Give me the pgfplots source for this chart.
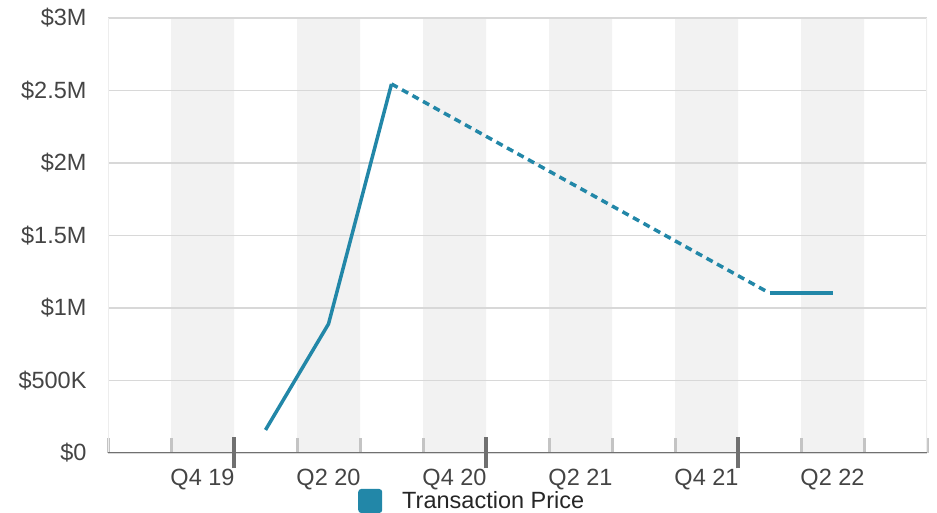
\documentclass[border=0pt]{standalone}
\usepackage{fontspec}
\setmainfont{Liberation Sans}
\usepackage{pgfplots}
\pgfplotsset{compat=1.18}

\definecolor{lineteal}{HTML}{2287A8}
\definecolor{bandgray}{HTML}{F2F2F2}
\definecolor{gridgray}{HTML}{D8D8D8}
\definecolor{axisgray}{HTML}{707070}
\definecolor{minorgray}{HTML}{C4C4C4}
\definecolor{edgegray}{HTML}{EDEDED}
\definecolor{labelgray}{HTML}{444444}

\newcommand\chartfont{\fontsize{23.5pt}{27pt}\selectfont}

\begin{document}
\begin{tikzpicture}
\begin{axis}[
    set layers,
    scale only axis,
    width=819pt,
    height=435pt,
    xmin=-0.5, xmax=12.5,
    ymin=0, ymax=3,
    axis line style={draw=none},
    % quarters: Q3 19 = 0 ... Q3 22 = 12
    xtick={1,3,5,7,9,11},
    xticklabels={Q4 19,Q2 20,Q4 20,Q2 21,Q4 21,Q2 22},
    xtick pos=bottom,
    xtick align=inside,
    major tick length=0pt,
    minor xtick={-0.5,0.5,...,12.5},
    minor tick length=15pt,
    minor x tick style={draw=minorgray, line width=3pt},
    extra x ticks={1.5,5.5,9.5},
    extra x tick labels={},
    extra x tick style={
        major tick length=31pt,
        xtick align=center,
        major x tick style={draw=axisgray, line width=3.5pt},
    },
    ytick={0,0.5,1,1.5,2,2.5,3},
    yticklabels={\$0,\$500K,\$1M,\$1.5M,\$2M,\$2.5M,\$3M},
    ytick pos=left,
    ytick style={draw=none},
    ymajorgrids=true,
    major grid style={draw=gridgray, line width=1.5pt},
    tick label style={font=\chartfont, text=labelgray},
    xticklabel style={yshift=-13pt},
    yticklabel style={xshift=-18pt},
    legend style={
        draw=none, fill=none,
        font=\chartfont, text=black!85,
        at={(rel axis cs:0.3053,-0.1103)}, anchor=west,
        inner sep=0pt,
        /tikz/every odd column/.append style={column sep=18pt},
    },
    legend image code/.code={
        \path[draw=none, fill=none] (0pt,-20pt) rectangle (24pt,20pt);
        \fill[lineteal, draw=none, rounded corners=3pt] (0pt,-12pt) rectangle (24pt,12pt);
    },
]
% shaded bands on every other quarter
\addplot[ybar interval, fill=bandgray, draw=none, on layer=axis background, forget plot]
    coordinates {
    (0.5,3) (1.5,0) (2.5,3) (3.5,0) (4.5,3) (5.5,0)
    (6.5,3) (7.5,0) (8.5,3) (9.5,0) (10.5,3) (11.5,0) (12.5,0)
    };

\addplot[lineteal, line width=3.5pt]
    coordinates {
    (2,0.159)
    (3,0.890)
    (4,2.545)
    };
\addlegendentry{Transaction Price}

% gap in the data, joined by a dotted line
\addplot[lineteal, line width=3.5pt, dash pattern=on 7pt off 5pt, forget plot]
    coordinates {
    (4,2.545)
    (10,1.103)
    };

\addplot[lineteal, line width=3.5pt, forget plot]
    coordinates {
    (10,1.103)
    (11,1.103)
    };

\draw[edgegray, line width=1.5pt] (rel axis cs:0,0) -- (rel axis cs:0,1);
\draw[edgegray, line width=1.5pt] (rel axis cs:1,0) -- (rel axis cs:1,1);
\draw[axisgray, line width=2pt] (rel axis cs:0,0) -- (rel axis cs:1,0);
\end{axis}
\pgfresetboundingbox
\useasboundingbox ([shift={(-108pt,-60pt)}]current axis.south west)
    rectangle ([shift={(10pt,18pt)}]current axis.north east);
\end{tikzpicture}
\end{document}
